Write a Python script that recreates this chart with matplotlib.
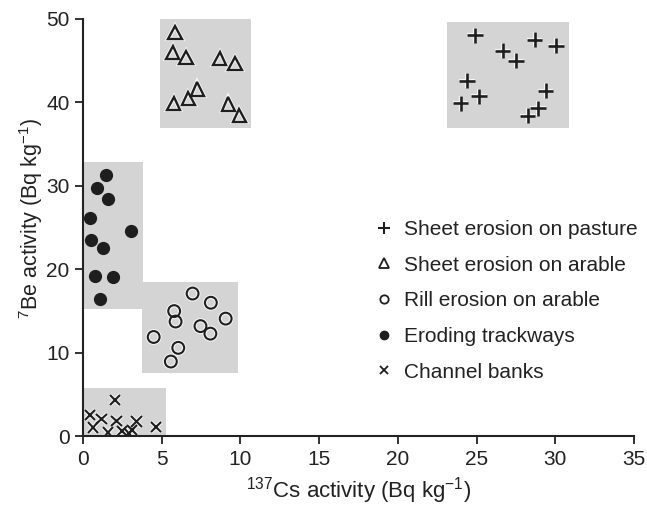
import matplotlib
matplotlib.use("Agg")
import matplotlib.pyplot as plt
from matplotlib.patches import Rectangle
from matplotlib.lines import Line2D
import matplotlib.patheffects as pe

plt.rcParams['font.family'] = ['Liberation Sans', 'DejaVu Sans']
plt.rcParams['mathtext.fontset'] = 'custom'
plt.rcParams['mathtext.rm'] = 'Liberation Sans'
plt.rcParams['mathtext.it'] = 'Liberation Sans'

# Data
pasture_x = [24.9, 26.66, 28.7, 30.05, 27.5, 24.4, 25.16, 24.0, 29.4, 28.9, 28.25]
pasture_y = [48.0, 46.2, 47.5, 46.8, 45.0, 42.6, 40.7, 39.9, 41.4, 39.3, 38.4]

arable_x = [5.85, 5.7, 6.55, 8.7, 9.66, 7.26, 6.7, 5.78, 9.23, 9.93]
arable_y = [48.4, 46.0, 45.4, 45.2, 44.6, 41.6, 40.5, 39.9, 39.8, 38.4]

rill_x = [6.97, 8.13, 5.8, 5.89, 9.07, 7.47, 8.1, 4.5, 6.06, 5.59]
rill_y = [17.1, 16.0, 15.0, 13.75, 14.1, 13.2, 12.3, 11.9, 10.6, 8.96]

track_x = [1.5, 0.87, 1.6, 0.44, 3.05, 0.55, 1.29, 0.8, 1.93, 1.12]
track_y = [31.3, 29.7, 28.4, 26.1, 24.6, 23.5, 22.6, 19.2, 19.1, 16.5]

bank_x = [2.03, 0.44, 1.19, 0.66, 2.14, 1.61, 2.5, 2.94, 3.41, 3.13, 4.64]
bank_y = [4.35, 2.55, 2.1, 1.04, 1.84, 0.44, 0.64, 0.32, 1.76, 0.75, 1.12]

# grey boxes: (x0, x1, y0, y1)
box_pasture = (23.1, 30.9, 36.9, 49.6)
box_arable = (4.9, 10.7, 36.9, 50.0)
box_rill = (3.75, 9.85, 7.55, 18.5)
box_track = (0.0, 3.8, 15.2, 32.9)
box_bank = (0.0, 5.3, 0.0, 5.75)

labels = ["Sheet erosion on pasture", "Sheet erosion on arable",
          "Rill erosion on arable", "Eroding trackways", "Channel banks"]

x_ticks = [0, 5, 10, 15, 20, 25, 30, 35]
y_ticks = [0, 10, 20, 30, 40, 50]

fig = plt.figure(figsize=(6.47, 5.08), dpi=100)
ax = fig.add_axes([0.128, 0.141, 0.852, 0.822])

grey = '#d4d4d4'
for (x0, x1, y0, y1) in [box_pasture, box_arable, box_rill, box_track, box_bank]:
    ax.add_patch(Rectangle((x0, y0), x1 - x0, y1 - y0, facecolor=grey,
                           edgecolor='none', zorder=1))

halo = [pe.Stroke(linewidth=3.0, foreground='#f4f4f4'), pe.Normal()]
k = '#1e1e1e'
ax.plot(pasture_x, pasture_y, ls='none', marker='+', ms=11, mew=1.9, color=k,
        zorder=3, path_effects=halo)
ax.plot(arable_x, arable_y, ls='none', marker='^', ms=9.5, mew=1.7, mfc='none',
        mec=k, zorder=3, path_effects=halo)
ax.plot(rill_x, rill_y, ls='none', marker='o', ms=8.5, mew=1.5, mfc='none',
        mec=k, zorder=3, path_effects=halo)
ax.plot(track_x, track_y, ls='none', marker='o', ms=8.5, mfc=k, mec=k,
        zorder=3)
ax.plot(bank_x, bank_y, ls='none', marker='x', ms=7.5, mew=1.5, color=k,
        zorder=3, path_effects=halo)

ax.set_xlim(0, 35)
ax.set_ylim(0, 50)
ax.set_xticks(x_ticks)
ax.set_yticks(y_ticks)
ax.tick_params(direction='out', length=6, width=1.3, labelsize=15, colors='#222222')
for s in ['top', 'right']:
    ax.spines[s].set_visible(False)
for s in ['left', 'bottom']:
    ax.spines[s].set_linewidth(1.5)
    ax.spines[s].set_color('#222222')
ax.spines['left'].set_zorder(5)
ax.spines['bottom'].set_zorder(5)

ax.set_xlabel(r'$^{137}$Cs activity (Bq kg$^{\mathdefault{-1}}$)', fontsize=16,
              labelpad=5, color='#222222')
ax.set_ylabel(r'$^{7}$Be activity (Bq kg$^{\mathdefault{-1}}$)', fontsize=15.5,
              color='#222222')
ax.yaxis.set_label_coords(-0.068, 0.522)

handles = [
    Line2D([], [], ls='none', marker='+', ms=8, mew=1.5, color=k),
    Line2D([], [], ls='none', marker='^', ms=7, mew=1.3, mfc='none', mec=k),
    Line2D([], [], ls='none', marker='o', ms=6, mew=1.3, mfc='none', mec=k),
    Line2D([], [], ls='none', marker='o', ms=6, mfc=k, mec=k),
    Line2D([], [], ls='none', marker='x', ms=6, mew=1.3, color=k),
]
leg = ax.legend(handles, labels, loc='upper left', bbox_to_anchor=(0.512, 0.543),
                frameon=False, fontsize=15, handlelength=0.8,
                handletextpad=0.55, labelspacing=0.8, borderpad=0)
for t in leg.get_texts():
    t.set_color('#222222')

fig.savefig('out.png', dpi=100)
